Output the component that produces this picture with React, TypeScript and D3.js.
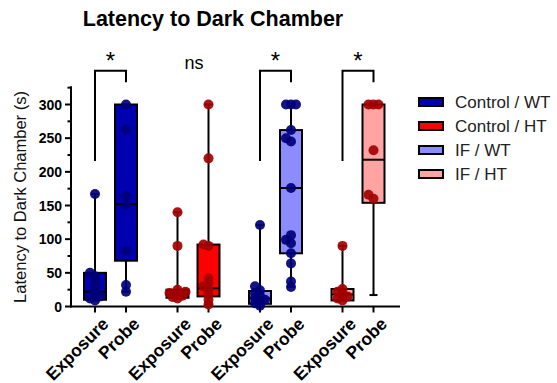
import { useEffect, useRef } from "react";
import * as d3 from "d3";

// groups, phases and styling per group
const groups = ["Control / WT", "Control / HT", "IF / WT", "IF / HT"];
const phases = ["Exposure", "Probe"];
const boxFill = ["#0000b0", "#ff0000", "#8c8cff", "#ffa3a3"];
const dotFill = ["#00007a", "#a30000", "#00007a", "#a30000"];
const signif = ["*", "ns", "*", "*"];

// individual latencies (s)
const cwtExposure = [9, 12, 15, 20, 28, 38, 45, 50, 167];
const cwtProbe = [22, 32, 83, 151, 164, 263, 300];
const chtExposure = [12, 14, 16, 18, 20, 22, 25, 90, 140];
const chtProbe = [3, 10, 18, 25, 30, 35, 42, 90, 92, 220, 300];
const ifwtExposure = [1, 5, 8, 10, 13, 16, 20, 24, 30, 121];
const ifwtProbe = [29, 37, 64, 79, 94, 99, 106, 176, 245, 250, 262, 300, 300, 300];
const ifhtExposure = [9, 12, 15, 18, 22, 26, 90];
const ifhtProbe = [160, 166, 232, 300, 300, 300];

// box stats: min, q1, median, q3, max
const cwtExposureBox = [9, 10, 22, 50, 167];
const cwtProbeBox = [22, 68, 152, 300, 300];
const chtExposureBox = [12, 13, 18, 25, 140];
const chtProbeBox = [3, 15, 27, 92, 300];
const ifwtExposureBox = [1, 4, 12, 23, 121];
const ifwtProbeBox = [29, 79, 176, 262, 300];
const ifhtExposureBox = [9, 9, 18, 26, 90];
const ifhtProbeBox = [17, 154, 218, 300, 300];

const points = [
  [cwtExposure, cwtProbe],
  [chtExposure, chtProbe],
  [ifwtExposure, ifwtProbe],
  [ifhtExposure, ifhtProbe],
];
const boxes = [
  [cwtExposureBox, cwtProbeBox],
  [chtExposureBox, chtProbeBox],
  [ifwtExposureBox, ifwtProbeBox],
  [ifhtExposureBox, ifhtProbeBox],
];

const yTicks = [0, 50, 100, 150, 200, 250, 300];

export default function App() {
  const svgRef = useRef<SVGSVGElement>(null);

  useEffect(() => {
    if (!svgRef.current) return;
    const svg = d3.select(svgRef.current);
    svg.selectAll("*").remove();

    const font = "'Liberation Sans', Arial, sans-serif";
    const y = d3.scaleLinear().domain([0, 300]).range([306.5, 104.5]);
    const gx = d3.scalePoint<string>().domain(groups).range([110.5, 358]);
    const off = d3.scalePoint<string>().domain(phases).range([-15.5, 15.5]);
    const xOf = (gi: number, pi: number) => gx(groups[gi])! + off(phases[pi])!;
    const boxW = 22;
    const r = 5;

    // title
    svg
      .append("text")
      .attr("x", 213)
      .attr("y", 26)
      .attr("text-anchor", "middle")
      .attr("font-family", font)
      .attr("font-weight", "bold")
      .attr("font-size", "21.5px")
      .text("Latency to Dark Chamber");

    // y axis label
    svg
      .append("text")
      .attr("transform", "translate(26,197) rotate(-90)")
      .attr("text-anchor", "middle")
      .attr("font-family", font)
      .attr("font-size", "16.5px")
      .attr("fill", "#111")
      .text("Latency to Dark Chamber (s)");

    // y axis
    const yAxis = svg.append("g").attr("transform", "translate(71,0)");
    yAxis
      .append("line")
      .attr("y1", y(0) + 1)
      .attr("y2", y(327))
      .attr("stroke", "#000")
      .attr("stroke-width", 2);
    d3.range(0, 326, 25).forEach((v) => {
      const major = v % 50 === 0;
      yAxis
        .append("line")
        .attr("x1", major ? -6 : -3.5)
        .attr("x2", 0)
        .attr("y1", y(v))
        .attr("y2", y(v))
        .attr("stroke", "#000")
        .attr("stroke-width", 2);
    });
    yTicks.forEach((v) => {
      yAxis
        .append("text")
        .attr("x", -9)
        .attr("y", y(v))
        .attr("dy", "0.36em")
        .attr("text-anchor", "end")
        .attr("font-family", font)
        .attr("font-weight", "bold")
        .attr("font-size", "14px")
        .text(v);
    });

    // x axis
    svg
      .append("line")
      .attr("x1", 70)
      .attr("x2", 400)
      .attr("y1", y(0))
      .attr("y2", y(0))
      .attr("stroke", "#000")
      .attr("stroke-width", 2);

    groups.forEach((_, gi) => {
      phases.forEach((ph, pi) => {
        const cx = xOf(gi, pi);
        svg
          .append("line")
          .attr("x1", cx)
          .attr("x2", cx)
          .attr("y1", y(0))
          .attr("y2", y(0) + 6)
          .attr("stroke", "#000")
          .attr("stroke-width", 2);
        svg
          .append("text")
          .attr("transform", `translate(${cx + 6},${y(0) + 10}) rotate(-45)`)
          .attr("text-anchor", "end")
          .attr("dy", "0.7em")
          .attr("font-family", font)
          .attr("font-weight", "bold")
          .attr("font-size", "17.5px")
          .text(ph);

        const [mn, q1, med, q3, mx] = boxes[gi][pi];
        const g = svg.append("g");
        // whiskers
        [
          [mn, q1],
          [q3, mx],
        ].forEach(([a, b]) => {
          g.append("line")
            .attr("x1", cx)
            .attr("x2", cx)
            .attr("y1", y(a))
            .attr("y2", y(b))
            .attr("stroke", "#000")
            .attr("stroke-width", 2);
        });
        [mn, mx].forEach((v) => {
          g.append("line")
            .attr("x1", cx - 4)
            .attr("x2", cx + 4)
            .attr("y1", y(v))
            .attr("y2", y(v))
            .attr("stroke", "#000")
            .attr("stroke-width", 2);
        });
        // box
        g.append("rect")
          .attr("x", cx - boxW / 2)
          .attr("y", y(q3))
          .attr("width", boxW)
          .attr("height", Math.max(1, y(q1) - y(q3)))
          .attr("fill", boxFill[gi])
          .attr("stroke", "#000")
          .attr("stroke-width", 2);
        g.append("line")
          .attr("x1", cx - boxW / 2)
          .attr("x2", cx + boxW / 2)
          .attr("y1", y(med))
          .attr("y2", y(med))
          .attr("stroke", "#000")
          .attr("stroke-width", 2);

        // points, spread sideways when they overlap
        const placed: { x: number; y: number }[] = [];
        const vals = [...points[gi][pi]].sort((a, b) => a - b);
        const cands = [0, -5, 5, -8, 8, -2.5, 2.5, -6.5, 6.5];
        vals.forEach((v) => {
          const py = y(v);
          let best = cands[0];
          for (const c of cands) {
            const ok = placed.every(
              (p) => Math.hypot(p.x - (cx + c), p.y - py) >= r * 0.9
            );
            if (ok) {
              best = c;
              break;
            }
          }
          placed.push({ x: cx + best, y: py });
        });
        g.selectAll("circle.pt")
          .data(placed)
          .enter()
          .append("circle")
          .attr("class", "pt")
          .attr("cx", (d) => d.x)
          .attr("cy", (d) => d.y)
          .attr("r", r)
          .attr("fill", dotFill[gi])
          .attr("fill-opacity", 0.92);
      });

      // significance bracket
      const xl = xOf(gi, 0);
      const xr = xOf(gi, 1);
      const cxg = gx(groups[gi])!;
      if (signif[gi] === "*") {
        svg
          .append("path")
          .attr("d", `M${xl},${y(216)}V${y(350)}H${xr}V${y(333)}`)
          .attr("fill", "none")
          .attr("stroke", "#000")
          .attr("stroke-width", 2);
        svg
          .append("text")
          .attr("x", cxg)
          .attr("y", y(350) - 2)
          .attr("text-anchor", "middle")
          .attr("font-family", font)
          .attr("font-size", "24px")
          .text("*");
      } else {
        svg
          .append("text")
          .attr("x", cxg + 1)
          .attr("y", 69)
          .attr("text-anchor", "middle")
          .attr("font-family", font)
          .attr("font-size", "18px")
          .text(signif[gi]);
      }
    });

    // legend
    const leg = svg.append("g").attr("transform", "translate(419,98)");
    groups.forEach((gname, i) => {
      const row = leg.append("g").attr("transform", `translate(0,${i * 24})`);
      row
        .append("rect")
        .attr("width", 24)
        .attr("height", 8)
        .attr("fill", boxFill[i])
        .attr("stroke", "#000")
        .attr("stroke-width", 2);
      row
        .append("text")
        .attr("x", 36)
        .attr("y", 4)
        .attr("dy", "0.36em")
        .attr("font-family", font)
        .attr("font-size", "17px")
        .attr("fill", "#222")
        .text(gname);
    });
  }, []);

  return (
    <svg
      ref={svgRef}
      width={557}
      height={383}
      style={{ position: "absolute", left: 0, top: 0, background: "#fff" }}
    />
  );
}
